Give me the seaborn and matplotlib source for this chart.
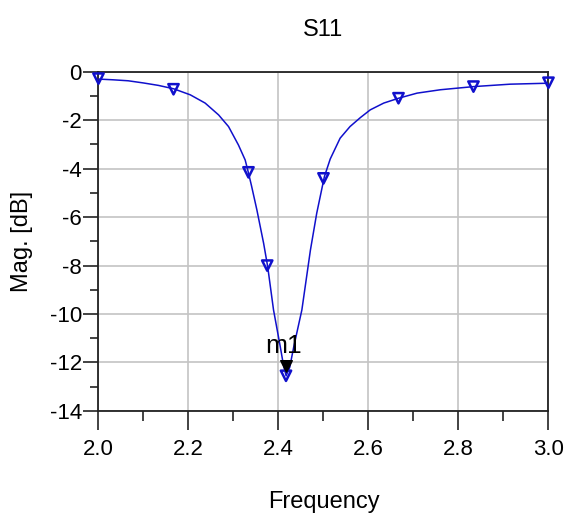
import matplotlib
matplotlib.use("Agg")
import matplotlib.pyplot as plt
import seaborn as sns
import pandas as pd
from matplotlib.ticker import MultipleLocator, FormatStrFormatter

# ---- data ----
freq = [2.000, 2.033, 2.066, 2.100, 2.133, 2.167, 2.204, 2.237, 2.267, 2.289,
        2.311, 2.326, 2.333, 2.340, 2.352, 2.367, 2.376, 2.389, 2.404, 2.411,
        2.417, 2.425, 2.434, 2.452, 2.471, 2.485, 2.502, 2.515, 2.537, 2.559,
        2.582, 2.604, 2.634, 2.667, 2.708, 2.760, 2.834, 2.915, 3.000]
mag = [-0.30, -0.33, -0.37, -0.46, -0.56, -0.70, -0.95, -1.29, -1.78, -2.26,
       -3.02, -3.64, -4.15, -4.70, -5.70, -7.08, -8.04, -9.83, -11.35, -12.10,
       -12.55, -12.20, -11.35, -9.83, -7.36, -5.84, -4.33, -3.60, -2.74, -2.26,
       -1.89, -1.57, -1.29, -1.09, -0.88, -0.74, -0.61, -0.51, -0.47]

marker_freq = [2.000, 2.1667, 2.3333, 2.375, 2.4167, 2.500, 2.6667, 2.8333, 3.000]
marker_mag = [-0.28, -0.72, -4.15, -8.00, -12.55, -4.40, -1.09, -0.61, -0.45]

m1_freq = [2.4175]
m1_mag = [-12.15]
m1_label = "m1"

xticks = [2.0, 2.2, 2.4, 2.6, 2.8, 3.0]
yticks = [0, -2, -4, -6, -8, -10, -12, -14]

title = "S11"
xlabel = "Frequency"
ylabel = "Mag. [dB]"

# ---- style ----
sns.set_style("white")
plt.rcParams["font.family"] = ["Liberation Sans", "DejaVu Sans"]
plt.rcParams["axes.unicode_minus"] = False
for k in ["text.color", "axes.labelcolor", "xtick.color", "ytick.color"]:
    plt.rcParams[k] = "black"
fs_tick = 16
fs_lab = 17

blue = "#1010cc"
fig = plt.figure(figsize=(5.66, 5.13), dpi=100)
ax = fig.add_axes([0.174, 0.199, 0.795, 0.661])

df = pd.DataFrame({"freq": freq, "mag": mag})
sns.lineplot(data=df, x="freq", y="mag", color=blue, linewidth=1.1, sort=False,
             ax=ax, zorder=3)

dm = pd.DataFrame({"freq": marker_freq, "mag": marker_mag})
sns.scatterplot(data=dm, x="freq", y="mag", marker="v", s=55,
                facecolors="none", edgecolor=blue, linewidth=1.8, ax=ax,
                zorder=4, clip_on=False)

d1 = pd.DataFrame({"freq": m1_freq, "mag": m1_mag})
sns.scatterplot(data=d1, x="freq", y="mag", marker="v", s=70, color="black",
                edgecolor="black", linewidth=1, ax=ax, zorder=5)
ax.text(m1_freq[0] - 0.007, m1_mag[0] + 0.85, m1_label, fontsize=19,
        ha="center", va="center", color="black", zorder=6)

ax.set_xlim(2.0, 3.0)
ax.set_ylim(-14, 0)
ax.set_xticks(xticks)
ax.set_yticks(yticks)
ax.xaxis.set_major_formatter(FormatStrFormatter("%.1f"))
ax.xaxis.set_minor_locator(MultipleLocator(0.1))
ax.yaxis.set_minor_locator(MultipleLocator(1))

ax.grid(True, which="major", color="#c4c4c4", linewidth=1.2)
ax.set_axisbelow(True)

for s in ax.spines.values():
    s.set_color("#222222")
    s.set_linewidth(1.3)
    s.set_visible(True)

ax.tick_params(axis="x", which="major", direction="out", length=13.5, width=1.2,
               color="#222222", labelsize=fs_tick, pad=7, bottom=True)
ax.tick_params(axis="x", which="minor", direction="out", length=7, width=1.2,
               color="#222222", bottom=True)
ax.tick_params(axis="y", which="major", direction="out", length=11, width=1.2,
               color="#222222", labelsize=fs_tick, pad=1, left=True)
ax.tick_params(axis="y", which="minor", direction="out", length=6, width=1.2,
               color="#222222", left=True)

ax.set_title(title, fontsize=fs_lab, pad=26)
ax.set_xlabel(xlabel, fontsize=fs_lab, labelpad=22)
ax.set_ylabel(ylabel, fontsize=fs_lab, labelpad=12)

fig.savefig("out.png", dpi=100)
